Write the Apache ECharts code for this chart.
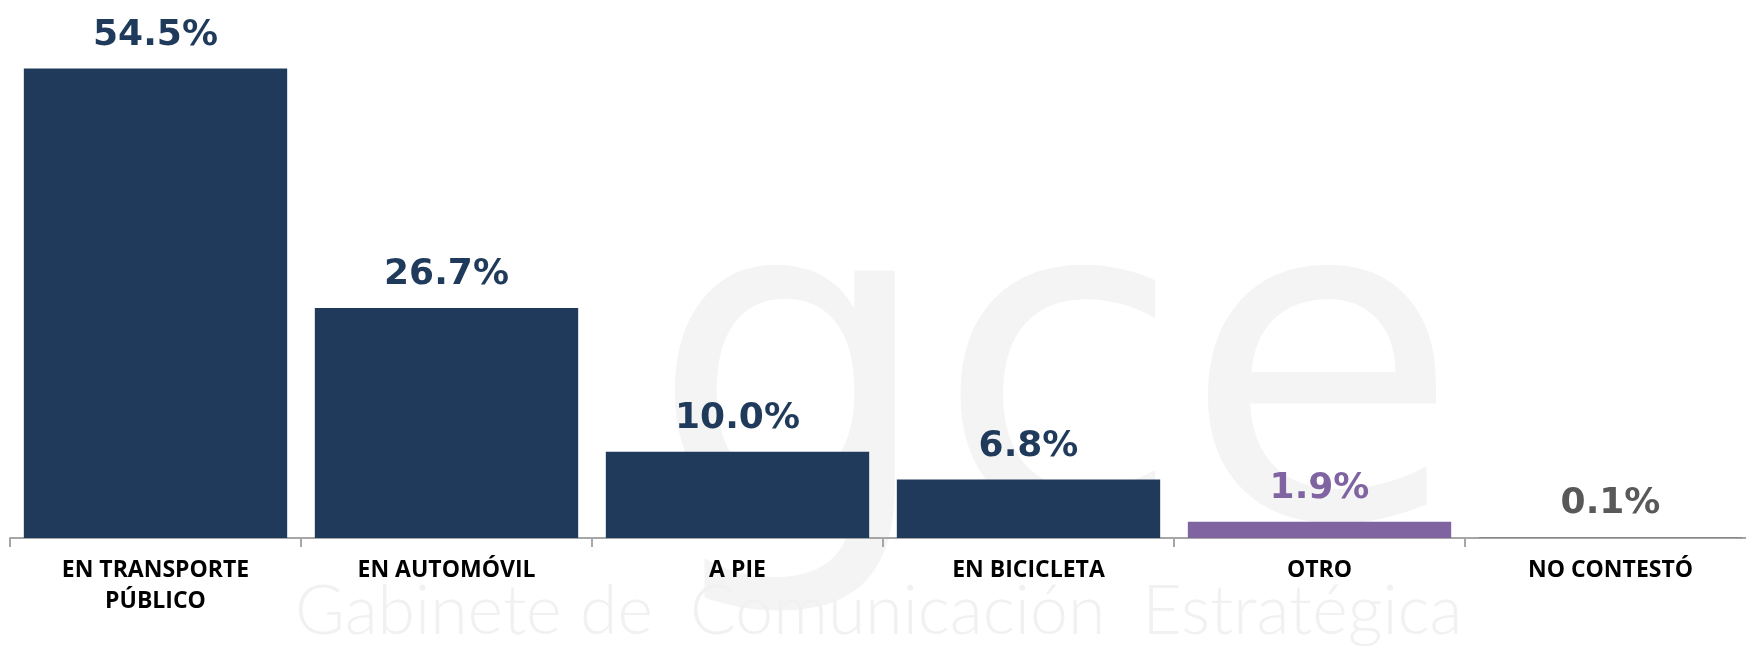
<!DOCTYPE html>
<html><head><meta charset="utf-8">
<script src="https://cdn.jsdelivr.net/npm/echarts@6/dist/echarts.min.js"></script>
<style>html,body{margin:0;padding:0;background:#fff}#c{width:1746px;height:646px}</style>
</head><body><div id="c"></div>
<script>
const categories = ['EN TRANSPORTE\nPÚBLICO', 'EN AUTOMÓVIL', 'A PIE', 'EN BICICLETA', 'OTRO', 'NO CONTESTÓ'];
const values = [54.5, 26.7, 10.0, 6.8, 1.9, 0.1];
const barColors = ['#1F3A5A', '#1F3A5A', '#1F3A5A', '#1F3A5A', '#8064A2', '#7F7F7F'];
const labelColors = ['#1F3A5A', '#1F3A5A', '#1F3A5A', '#1F3A5A', '#8064A2', '#595959'];

const chart = echarts.init(document.getElementById('c'));
chart.setOption({
  animation: false,
  graphic: [
    {type: 'text', silent: true, z: -10,
     style: {x: 650, y: 400, verticalAlign: 'middle', text: 'gce', font: '400 450px "DejaVu Sans"', fill: '#f4f4f4'}},
    {type: 'text', silent: true, z: -10,
     style: {x: 295, y: 612, verticalAlign: 'middle', text: 'Gabinete de  Comunicación  Estratégica', font: '300 68px Lato', fill: '#f1f1f1'}}
  ],
  grid: {left: 10, width: 1746, top: 21, bottom: 108, outerBoundsMode: 'none', containLabel: false},
  xAxis: {
    type: 'category', data: categories,
    axisLine: {lineStyle: {color: '#A6A6A6', width: 2}},
    axisTick: {show: true, length: 9, lineStyle: {color: '#A6A6A6', width: 2}},
    axisLabel: {color: '#000', fontFamily: '"Open Sans"', fontWeight: 'bold', fontSize: 23, lineHeight: 31, margin: 17, interval: 0}
  },
  yAxis: {type: 'value', min: 0, max: 60, show: false, splitLine: {show: false}},
  series: [{
    type: 'bar', barCategoryGap: '9.5%',
    data: values.map((v, i) => ({
      value: v,
      itemStyle: {color: barColors[i]},
      label: {color: labelColors[i]}
    })),
    label: {
      show: true, position: 'top', distance: 15,
      fontFamily: '"DejaVu Sans"', fontWeight: 'bold', fontSize: 36,
      formatter: p => p.value.toFixed(1) + '%'
    }
  }]
});
</script></body></html>
